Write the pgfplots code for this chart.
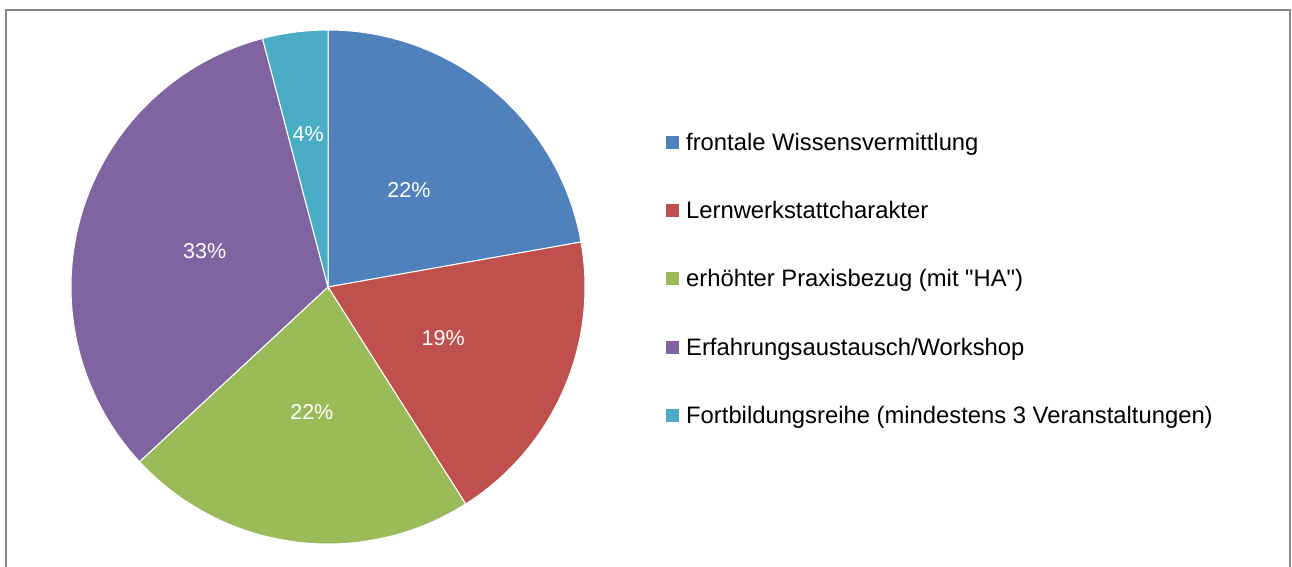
\documentclass[border=0pt]{standalone}
\usepackage{pgfplots}
\usepackage{pgfplotstable}
\pgfplotsset{compat=1.18}
\usepackage{fontspec}
\setmainfont{Liberation Sans}[Ligatures=TeXOff]
\definecolor{cA}{HTML}{4F81BD}
\definecolor{cB}{HTML}{C0504D}
\definecolor{cC}{HTML}{9BBB59}
\definecolor{cD}{HTML}{8064A2}
\definecolor{cE}{HTML}{4BACC6}
\definecolor{frame}{HTML}{888888}

\pgfplotstableread{
share
22.2
18.8
22.1
32.8
4.1
}\piedata

\pgfmathsetmacro\angA{90}
\pgfplotstablegetelem{0}{share}\of\piedata
\pgfmathsetmacro\angB{\angA-3.6*\pgfplotsretval}
\pgfplotstablegetelem{1}{share}\of\piedata
\pgfmathsetmacro\angC{\angB-3.6*\pgfplotsretval}
\pgfplotstablegetelem{2}{share}\of\piedata
\pgfmathsetmacro\angD{\angC-3.6*\pgfplotsretval}
\pgfplotstablegetelem{3}{share}\of\piedata
\pgfmathsetmacro\angE{\angD-3.6*\pgfplotsretval}
\pgfplotstablegetelem{4}{share}\of\piedata
\pgfmathsetmacro\angF{\angE-3.6*\pgfplotsretval}

\begin{document}
\begin{tikzpicture}
\path (0pt,0pt) rectangle (1292pt,567pt);
\draw[overlay, frame, line width=2pt] (6pt,-10pt) -- (6pt,557pt) -- (1290pt,557pt) -- (1290pt,-10pt);
\begin{axis}[
  overlay,
  hide axis, scale only axis,
  width=514pt, height=514pt,
  xmin=-1, xmax=1, ymin=-1, ymax=1,
  at={(328pt,280pt)}, anchor=center,
  clip=false,
  legend image code/.code={\fill[#1] (0pt,-7pt) rectangle (14pt,7pt); \path (18pt,0pt);},
  legend style={draw=none, fill=none, at={(1.1556,0.5156)}, anchor=west,
    inner sep=0pt, row sep=45.6pt,
    font=\fontsize{23.8pt}{28pt}\selectfont,
    nodes={inner sep=2pt}},
  legend cell align=left,
]
\addplot[fill=cA, draw=white, line width=1pt, domain=\angB:\angA, samples=80, variable=\t] ({cos(\t)},{sin(\t)}) -- (axis cs:0,0) -- cycle;
\addlegendentry{frontale Wissensvermittlung}
\addplot[fill=cB, draw=white, line width=1pt, domain=\angC:\angB, samples=80, variable=\t] ({cos(\t)},{sin(\t)}) -- (axis cs:0,0) -- cycle;
\addlegendentry{Lernwerkstattcharakter}
\addplot[fill=cC, draw=white, line width=1pt, domain=\angD:\angC, samples=80, variable=\t] ({cos(\t)},{sin(\t)}) -- (axis cs:0,0) -- cycle;
\addlegendentry{erhöhter Praxisbezug (mit "HA")}
\addplot[fill=cD, draw=white, line width=1pt, domain=\angE:\angD, samples=100, variable=\t] ({cos(\t)},{sin(\t)}) -- (axis cs:0,0) -- cycle;
\addlegendentry{Erfahrungsaustausch/Workshop}
\addplot[fill=cE, draw=white, line width=1pt, domain=\angF:\angE, samples=30, variable=\t] ({cos(\t)},{sin(\t)}) -- (axis cs:0,0) -- cycle;
\addlegendentry{Fortbildungsreihe (mindestens 3 Veranstaltungen)}
\begin{scope}[every node/.style={text=white, font=\fontsize{21.5pt}{24pt}\selectfont}]
\node at (axis cs:{0.49*cos((\angA+\angB)/2)},{0.49*sin((\angA+\angB)/2)}) {22\%};
\node at (axis cs:{0.49*cos((\angB+\angC)/2)},{0.49*sin((\angB+\angC)/2)}) {19\%};
\node at (axis cs:{0.49*cos((\angC+\angD)/2)},{0.49*sin((\angC+\angD)/2)}) {22\%};
\node at (axis cs:{0.50*cos((\angD+\angE)/2)},{0.50*sin((\angD+\angE)/2)}) {33\%};
\node at (axis cs:{0.60*cos((\angE+\angF)/2)},{0.60*sin((\angE+\angF)/2)}) {4\%};
\end{scope}
\end{axis}
\end{tikzpicture}
\end{document}
